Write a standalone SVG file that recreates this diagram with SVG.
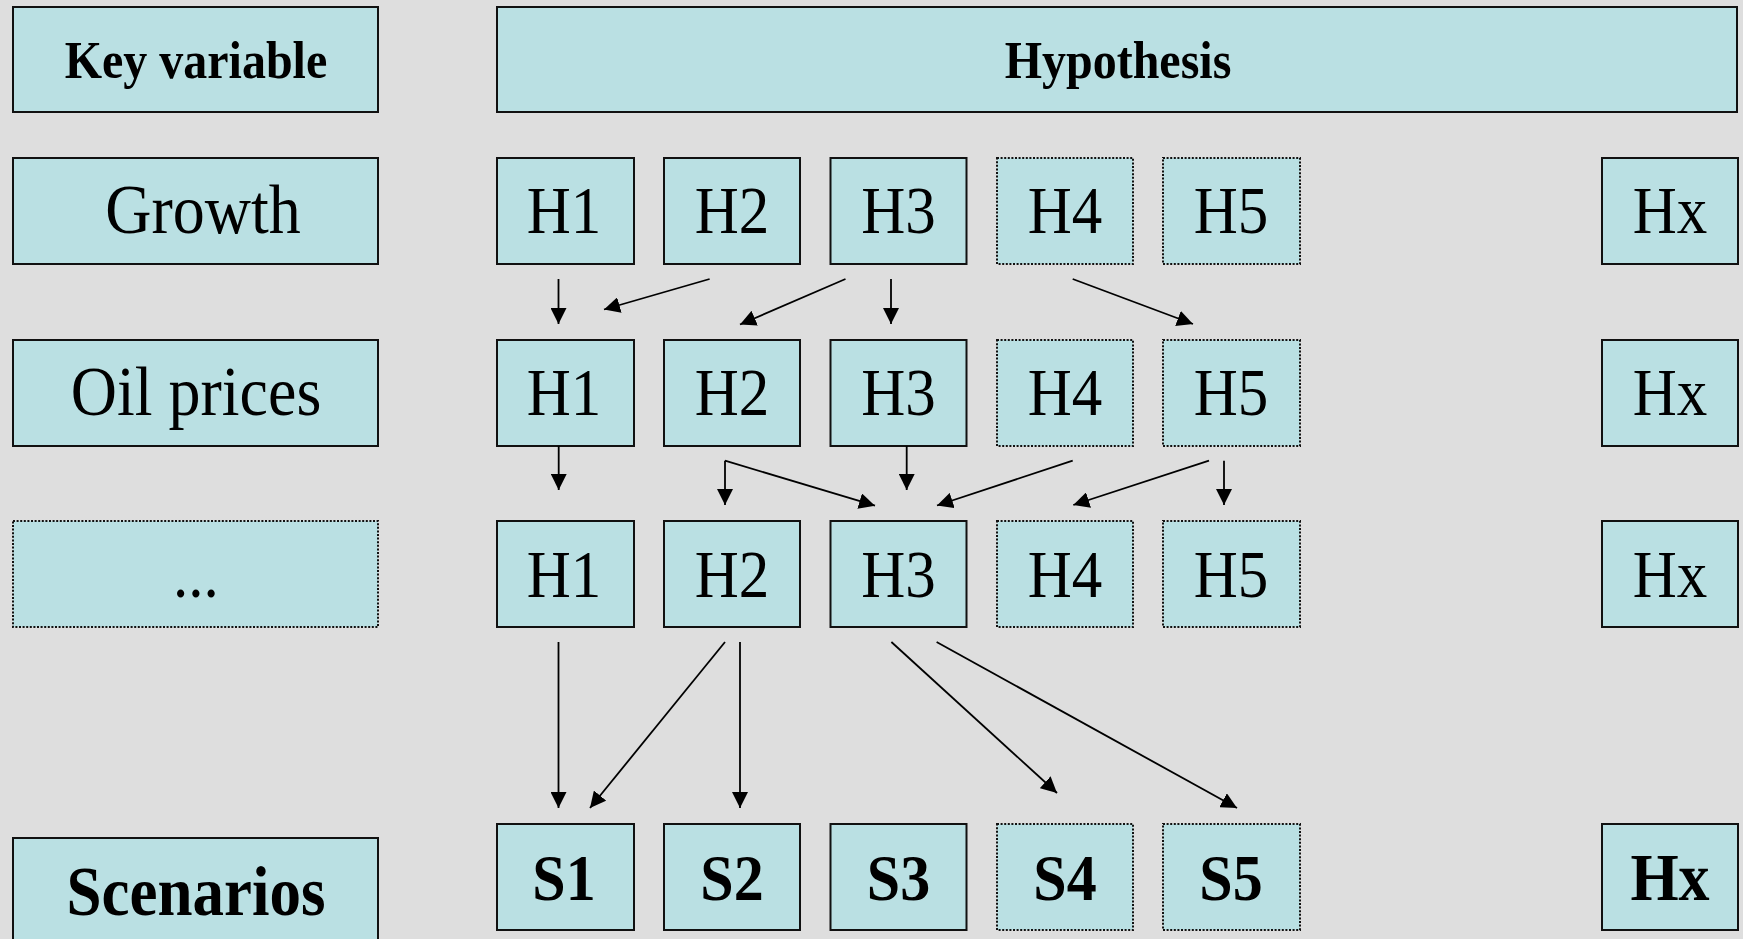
<svg xmlns="http://www.w3.org/2000/svg" width="1743" height="939" viewBox="0 0 1743 939">
<defs>
<style>
.b{fill:#BAE0E3;stroke:#111;stroke-width:2}
.d{fill:#BAE0E3;stroke:#111;stroke-width:2;stroke-dasharray:2 1.6}
.t{font-family:"Liberation Serif","Times New Roman",serif;font-size:61px;fill:#000;text-anchor:middle}
.tl{font-size:64px}
.tb{font-family:"Liberation Serif","Times New Roman",serif;font-size:60px;font-weight:bold;fill:#000;text-anchor:middle}
.th{font-family:"Liberation Serif","Times New Roman",serif;font-size:48px;font-weight:bold;fill:#000;text-anchor:middle}
.c line,.c path{stroke:#000;stroke-width:1.8;fill:none;marker-end:url(#ah)}
</style>
<marker id="ah" markerUnits="userSpaceOnUse" markerWidth="17" markerHeight="16" refX="16" refY="8" orient="auto">
<path d="M0,0 L16,8 L0,16 z" fill="#000"/>
</marker>
</defs>
<rect width="1743" height="939" fill="#DEDEDE"/>

<g id="key-variable"><rect class="b" x="13" y="7" width="365" height="105"/><text class="th" transform="translate(196,78) scale(1,1.1)">Key variable</text></g>
<g id="hypothesis"><rect class="b" x="497" y="7" width="1240" height="105"/><text class="th" transform="translate(1118,78) scale(1,1.1)">Hypothesis</text></g>

<g id="growth"><rect class="b" x="13" y="158" width="365" height="106"/><text class="t tl" transform="translate(203,233) scale(1,1.1)">Growth</text></g>
<g id="g-h1"><rect class="b" x="497" y="158" width="137" height="106"/><text class="t" transform="translate(564,233) scale(1,1.1)">H1</text></g>
<g id="g-h2"><rect class="b" x="664" y="158" width="136" height="106"/><text class="t" transform="translate(732,233) scale(1,1.1)">H2</text></g>
<g id="g-h3"><rect class="b" x="830.5" y="158" width="136" height="106"/><text class="t" transform="translate(898.5,233) scale(1,1.1)">H3</text></g>
<g id="g-h4"><rect class="d" x="997" y="158" width="136" height="106"/><text class="t" transform="translate(1065,233) scale(1,1.1)">H4</text></g>
<g id="g-h5"><rect class="d" x="1163" y="158" width="137" height="106"/><text class="t" transform="translate(1231,233) scale(1,1.1)">H5</text></g>
<g id="g-hx"><rect class="b" x="1602" y="158" width="136" height="106"/><text class="t" transform="translate(1670,233) scale(1,1.1)">Hx</text></g>

<g id="oil-prices"><rect class="b" x="13" y="340" width="365" height="106"/><text class="t tl" transform="translate(196,415) scale(1,1.1)">Oil prices</text></g>
<g id="o-h1"><rect class="b" x="497" y="340" width="137" height="106"/><text class="t" transform="translate(564,415) scale(1,1.1)">H1</text></g>
<g id="o-h2"><rect class="b" x="664" y="340" width="136" height="106"/><text class="t" transform="translate(732,415) scale(1,1.1)">H2</text></g>
<g id="o-h3"><rect class="b" x="830.5" y="340" width="136" height="106"/><text class="t" transform="translate(898.5,415) scale(1,1.1)">H3</text></g>
<g id="o-h4"><rect class="d" x="997" y="340" width="136" height="106"/><text class="t" transform="translate(1065,415) scale(1,1.1)">H4</text></g>
<g id="o-h5"><rect class="d" x="1163" y="340" width="137" height="106"/><text class="t" transform="translate(1231,415) scale(1,1.1)">H5</text></g>
<g id="o-hx"><rect class="b" x="1602" y="340" width="136" height="106"/><text class="t" transform="translate(1670,415) scale(1,1.1)">Hx</text></g>

<g id="etc"><rect class="d" x="13" y="521" width="365" height="106"/><text class="t" transform="translate(196,597) scale(1,1.1)">...</text></g>
<g id="e-h1"><rect class="b" x="497" y="521" width="137" height="106"/><text class="t" transform="translate(564,596.5) scale(1,1.1)">H1</text></g>
<g id="e-h2"><rect class="b" x="664" y="521" width="136" height="106"/><text class="t" transform="translate(732,596.5) scale(1,1.1)">H2</text></g>
<g id="e-h3"><rect class="b" x="830.5" y="521" width="136" height="106"/><text class="t" transform="translate(898.5,596.5) scale(1,1.1)">H3</text></g>
<g id="e-h4"><rect class="d" x="997" y="521" width="136" height="106"/><text class="t" transform="translate(1065,596.5) scale(1,1.1)">H4</text></g>
<g id="e-h5"><rect class="d" x="1163" y="521" width="137" height="106"/><text class="t" transform="translate(1231,596.5) scale(1,1.1)">H5</text></g>
<g id="e-hx"><rect class="b" x="1602" y="521" width="136" height="106"/><text class="t" transform="translate(1670,596.5) scale(1,1.1)">Hx</text></g>

<g id="scenarios"><rect class="b" x="13" y="838" width="365" height="110"/><text class="tb" transform="translate(196,915) scale(1,1.1)" style="font-size:63px">Scenarios</text></g>
<g id="s1"><rect class="b" x="497" y="824" width="137" height="106"/><text class="tb" transform="translate(564,900) scale(1,1.1)">S1</text></g>
<g id="s2"><rect class="b" x="664" y="824" width="136" height="106"/><text class="tb" transform="translate(732,900) scale(1,1.1)">S2</text></g>
<g id="s3"><rect class="b" x="830.5" y="824" width="136" height="106"/><text class="tb" transform="translate(898.5,900) scale(1,1.1)">S3</text></g>
<g id="s4"><rect class="d" x="997" y="824" width="136" height="106"/><text class="tb" transform="translate(1065,900) scale(1,1.1)">S4</text></g>
<g id="s5"><rect class="d" x="1163" y="824" width="137" height="106"/><text class="tb" transform="translate(1231,900) scale(1,1.1)">S5</text></g>
<g id="s-hx"><rect class="b" x="1602" y="824" width="136" height="106"/><text class="tb" transform="translate(1670,900) scale(1,1.1)" style="font-size:62px">Hx</text></g>

<g id="connectors" class="c">
<line x1="558.5" y1="279" x2="558.5" y2="324"/>
<line x1="709.6" y1="279" x2="604" y2="309.5"/>
<line x1="845.5" y1="279" x2="740" y2="324.5"/>
<line x1="891" y1="279" x2="891" y2="324"/>
<line x1="1072.7" y1="279" x2="1193" y2="324"/>
<line x1="558.7" y1="446" x2="558.7" y2="490"/>
<line x1="725" y1="460.7" x2="725" y2="505"/>
<line x1="725" y1="460.7" x2="875" y2="505.7"/>
<line x1="906.7" y1="446" x2="906.7" y2="490"/>
<line x1="1072.7" y1="460.7" x2="937" y2="505.5"/>
<line x1="1209" y1="460.7" x2="1073.3" y2="505"/>
<line x1="1224" y1="460.7" x2="1224" y2="505"/>
<line x1="558.5" y1="642" x2="558.5" y2="808"/>
<line x1="725" y1="642" x2="590" y2="808"/>
<line x1="740" y1="642" x2="740" y2="808"/>
<line x1="891.4" y1="642" x2="1057" y2="793"/>
<line x1="936.6" y1="642" x2="1237" y2="808"/>
</g>
</svg>
